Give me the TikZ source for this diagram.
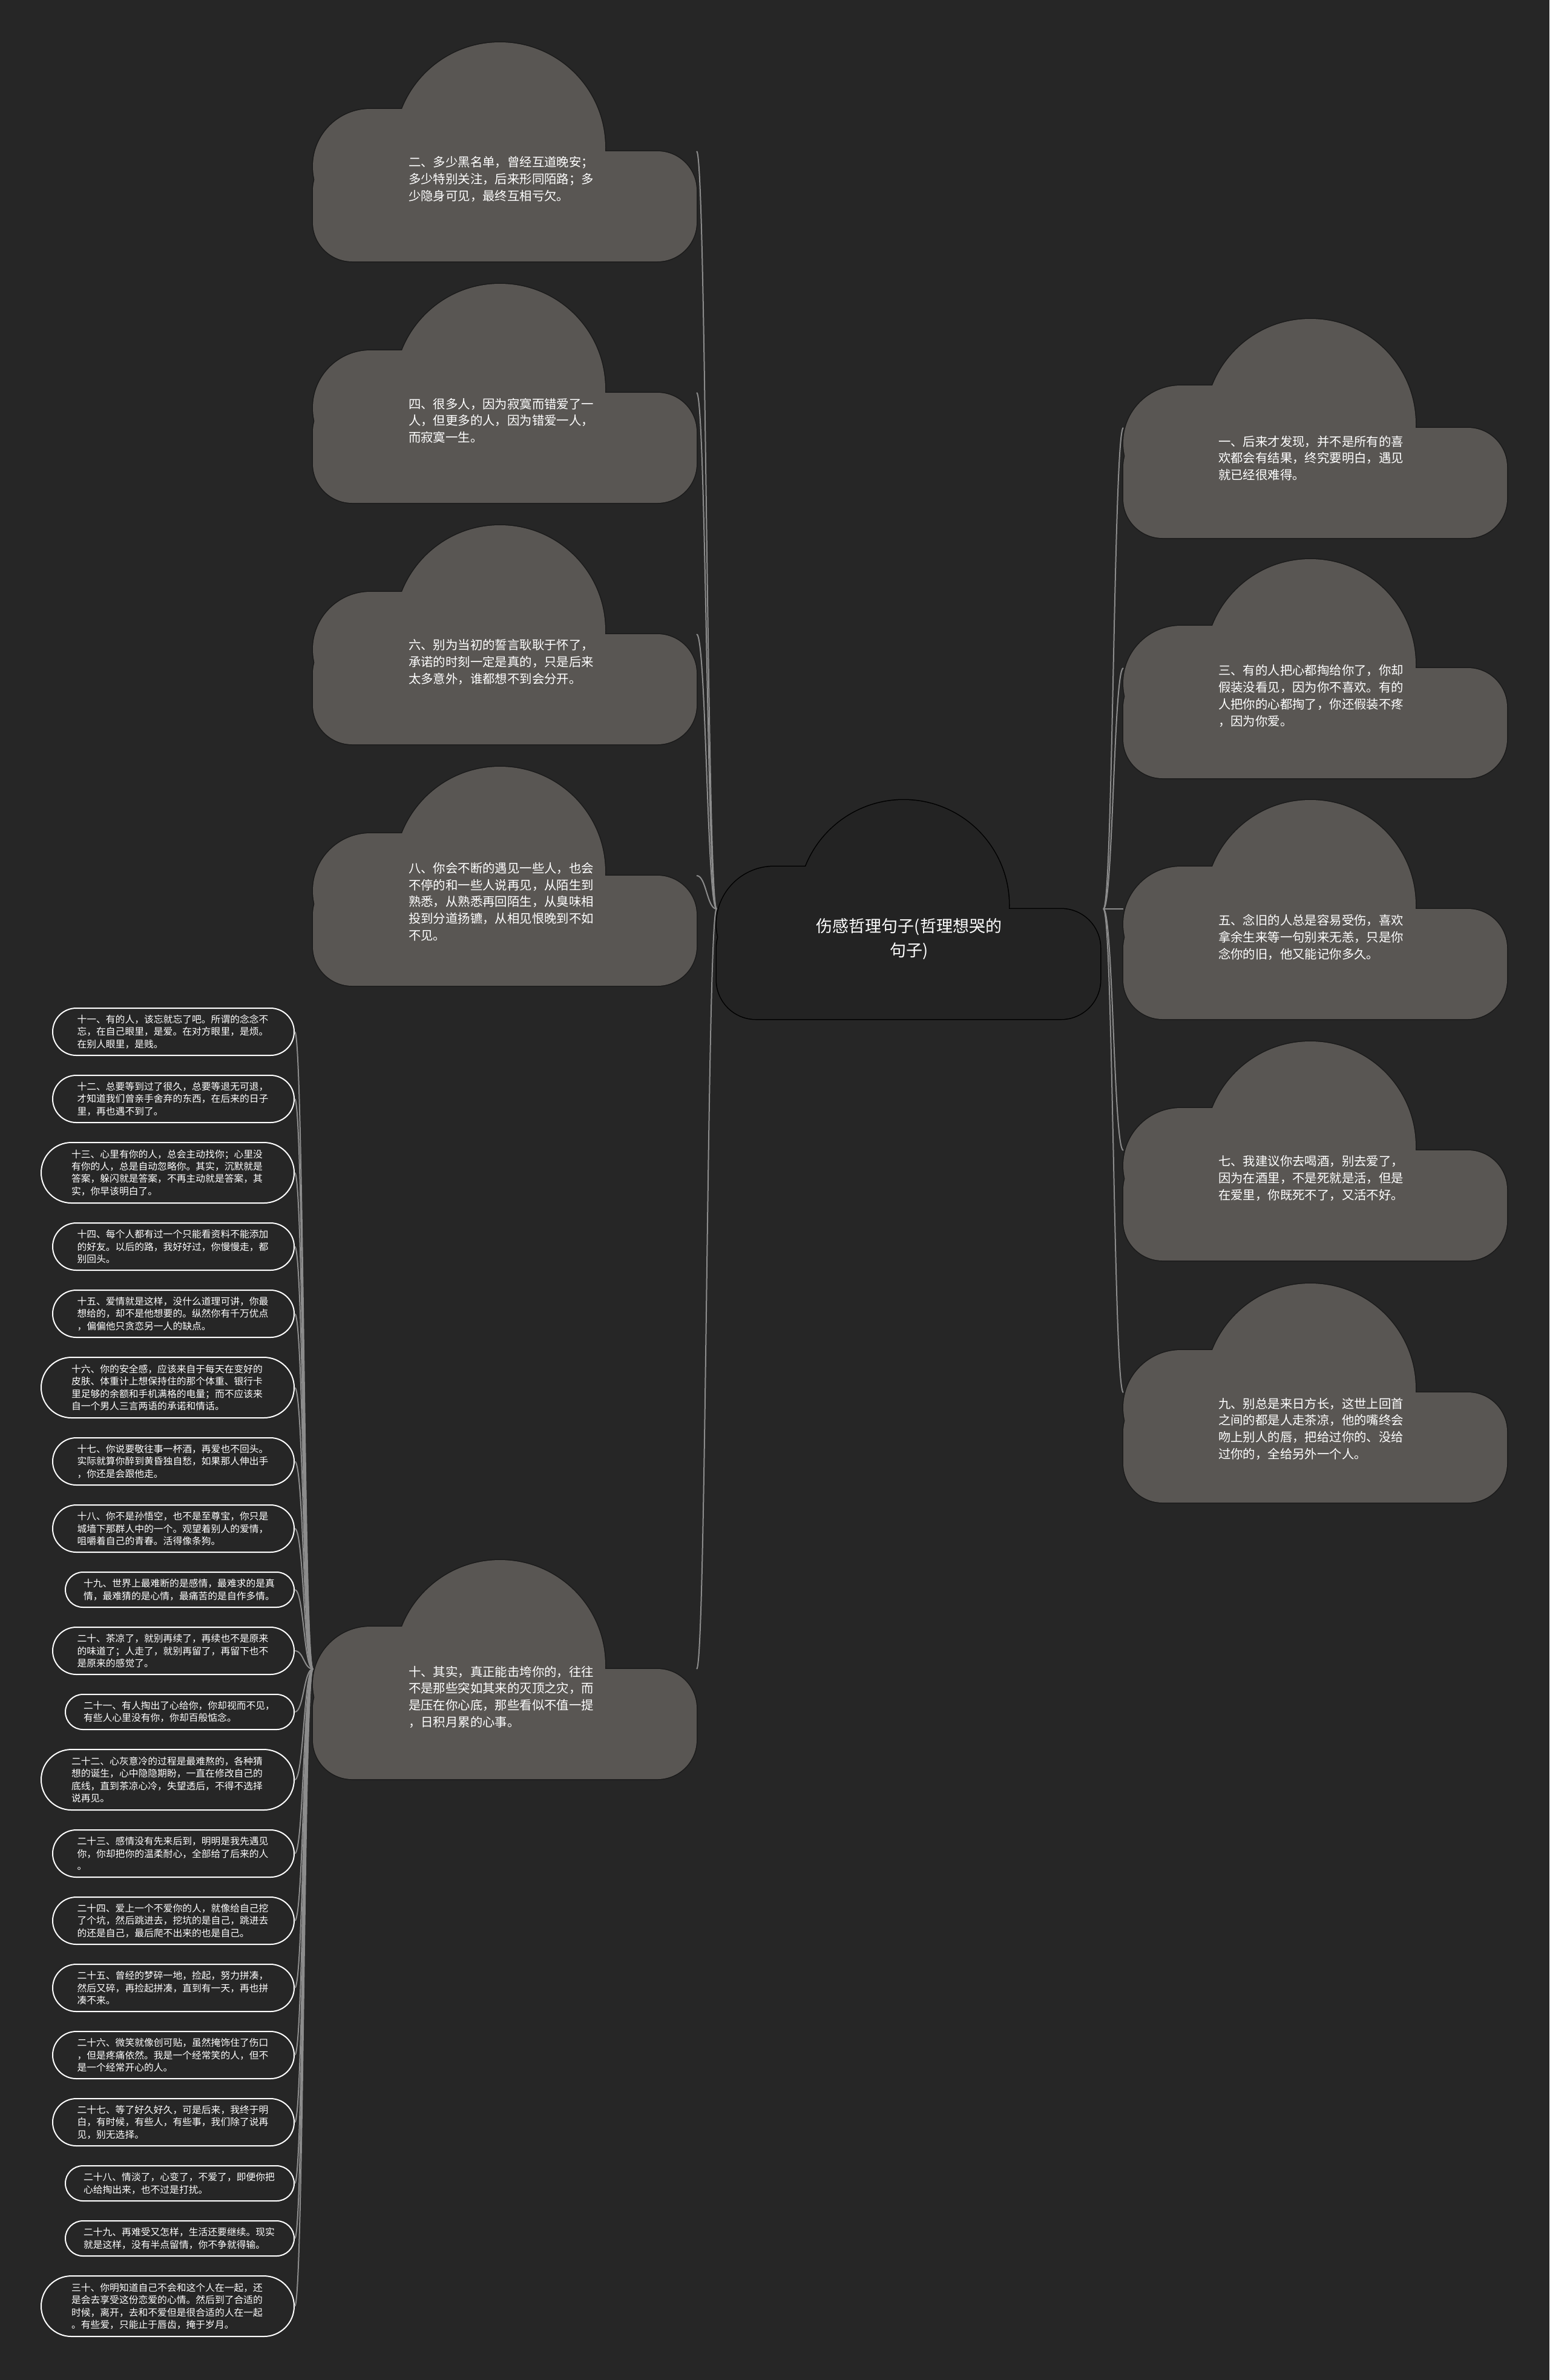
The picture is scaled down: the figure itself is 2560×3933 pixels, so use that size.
\documentclass[tikz,border=0pt]{standalone}
\usepackage{fontspec}
\newfontfamily\cjk{Noto Sans CJK SC}
\definecolor{bg}{HTML}{262626}
\definecolor{cloudfill}{HTML}{595653}
\definecolor{centerfill}{HTML}{232323}
\definecolor{cloudedge}{HTML}{1A1A1A}
\definecolor{linec}{HTML}{8C8C8C}
\newcommand\mycloud[4]{%
  \begin{scope}[shift={(#1,#2)}]
    \path[draw=#4, line width=3pt] (309,174) circle[radius=174];
    \path[draw=#4, line width=3pt, rounded corners=95pt] (0,110) rectangle (309,300);
    \path[draw=#4, line width=3pt, rounded corners=65pt] (0,180) rectangle (634,362);
    \path[fill=#3] (309,174) circle[radius=174];
    \path[fill=#3, rounded corners=95pt] (0,110) rectangle (309,300);
    \path[fill=#3, rounded corners=65pt] (0,180) rectangle (634,362);
  \end{scope}}
\tikzset{
  cloudtext/.style={text=white, font=\cjk\fontsize{20.4}{27.7}\selectfont, text width=308pt, align=left, inner sep=0pt},
  centertext/.style={text=white, font=\cjk\fontsize{27}{40}\selectfont, align=center, inner sep=0pt},
  leaf/.style={rectangle, draw=white, line width=2pt, fill=bg, text=white,
    font=\cjk\fontsize{15.8}{20.3}\selectfont, text width=318pt, align=left,
    inner xsep=0pt, inner ysep=0pt, anchor=east},
  leafa/.style={leaf, minimum height=58pt, minimum width=378pt, rounded corners=29pt},
  leafb/.style={leaf, minimum height=78pt, minimum width=399pt, rounded corners=39pt},
  leafc/.style={leaf, minimum height=100pt, minimum width=418pt, rounded corners=50pt},
  conn/.style={draw=linec, line width=2pt},
}
\begin{document}
\begin{tikzpicture}[x=1pt,y=-1pt]
\useasboundingbox (0,0) rectangle (2560,3933);
\fill[bg] (0,0) rectangle (2560,3933);

% anchor coordinates
\coordinate (cL) at (1184,1502);
\coordinate (cR) at (1823,1502);
\coordinate (k2) at (1151,250);
\coordinate (k4) at (1151,649);
\coordinate (k6) at (1151,1048);
\coordinate (k8) at (1151,1447);
\coordinate (k10) at (1151,2758);
\coordinate (k10L) at (517,2758);
\coordinate (k1) at (1856,707);
\coordinate (k3) at (1856,1104);
\coordinate (k5) at (1856,1502);
\coordinate (k7) at (1856,1901);
\coordinate (k9) at (1856,2301);

% small nodes
\node[leafb] (n11) at (487,1705) {十一、有的人，该忘就忘了吧。所谓的念念不\\忘，在自己眼里，是爱。在对方眼里，是烦。\\在别人眼里，是贱。};
\node[leafb] (n12) at (487,1816) {十二、总要等到过了很久，总要等退无可退，\\才知道我们曾亲手舍弃的东西，在后来的日子\\里，再也遇不到了。};
\node[leafc] (n13) at (487,1938) {十三、心里有你的人，总会主动找你；心里没\\有你的人，总是自动忽略你。其实，沉默就是\\答案，躲闪就是答案，不再主动就是答案，其\\实，你早该明白了。};
\node[leafb] (n14) at (487,2060) {十四、每个人都有过一个只能看资料不能添加\\的好友。以后的路，我好好过，你慢慢走，都\\别回头。};
\node[leafb] (n15) at (487,2171) {十五、爱情就是这样，没什么道理可讲，你最\\想给的，却不是他想要的。纵然你有千万优点\\，偏偏他只贪恋另一人的缺点。};
\node[leafc] (n16) at (487,2293) {十六、你的安全感，应该来自于每天在变好的\\皮肤、体重计上想保持住的那个体重、银行卡\\里足够的余额和手机满格的电量；而不应该来\\自一个男人三言两语的承诺和情话。};
\node[leafb] (n17) at (487,2415) {十七、你说要敬往事一杯酒，再爱也不回头。\\实际就算你醉到黄昏独自愁，如果那人伸出手\\，你还是会跟他走。};
\node[leafb] (n18) at (487,2526) {十八、你不是孙悟空，也不是至尊宝，你只是\\城墙下那群人中的一个。观望着别人的爱情，\\咀嚼着自己的青春。活得像条狗。};
\node[leafa] (n19) at (487,2627) {十九、世界上最难断的是感情，最难求的是真\\情，最难猜的是心情，最痛苦的是自作多情。};
\node[leafb] (n20) at (487,2728) {二十、茶凉了，就别再续了，再续也不是原来\\的味道了；人走了，就别再留了，再留下也不\\是原来的感觉了。};
\node[leafa] (n21) at (487,2829) {二十一、有人掏出了心给你，你却视而不见，\\有些人心里没有你，你却百般惦念。};
\node[leafc] (n22) at (487,2941) {二十二、心灰意冷的过程是最难熬的，各种猜\\想的诞生，心中隐隐期盼，一直在修改自己的\\底线，直到茶凉心冷，失望透后，不得不选择\\说再见。};
\node[leafb] (n23) at (487,3063) {二十三、感情没有先来后到，明明是我先遇见\\你，你却把你的温柔耐心，全部给了后来的人\\。};
\node[leafb] (n24) at (487,3174) {二十四、爱上一个不爱你的人，就像给自己挖\\了个坑，然后跳进去，挖坑的是自己，跳进去\\的还是自己，最后爬不出来的也是自己。};
\node[leafb] (n25) at (487,3285) {二十五、曾经的梦碎一地，捡起，努力拼凑，\\然后又碎，再捡起拼凑，直到有一天，再也拼\\凑不来。};
\node[leafb] (n26) at (487,3396) {二十六、微笑就像创可贴，虽然掩饰住了伤口\\，但是疼痛依然。我是一个经常笑的人，但不\\是一个经常开心的人。};
\node[leafb] (n27) at (487,3507) {二十七、等了好久好久，可是后来，我终于明\\白，有时候，有些人，有些事，我们除了说再\\见，别无选择。};
\node[leafa] (n28) at (487,3608) {二十八、情淡了，心变了，不爱了，即便你把\\心给掏出来，也不过是打扰。};
\node[leafa] (n29) at (487,3699) {二十九、再难受又怎样，生活还要继续。现实\\就是这样，没有半点留情，你不争就得输。};
\node[leafc] (n30) at (487,3811) {三十、你明知道自己不会和这个人在一起，还\\是会去享受这份恋爱的心情。然后到了合适的\\时候，离开，去和不爱但是很合适的人在一起\\。有些爱，只能止于唇齿，掩于岁月。};

% connectors
\foreach \t in {k2,k4,k6,k8,k10}
  \draw[conn] (cL) .. controls +(-16,0) and +(16,0) .. (\t);
\foreach \t in {k1,k3,k5,k7,k9}
  \draw[conn] (cR) .. controls +(16,0) and +(-16,0) .. (\t);
\foreach \t in {n11,n12,n13,n14,n15,n16,n17,n18,n19,n20,n21,n22,n23,n24,n25,n26,n27,n28,n29,n30}
  \draw[conn] (k10L) .. controls +(-15,0) and +(15,0) .. (\t.east);

% clouds
\mycloud{1184}{1322}{centerfill}{black}
\mycloud{517}{70}{cloudfill}{cloudedge}
\mycloud{517}{469}{cloudfill}{cloudedge}
\mycloud{517}{868}{cloudfill}{cloudedge}
\mycloud{517}{1267}{cloudfill}{cloudedge}
\mycloud{517}{2578}{cloudfill}{cloudedge}
\mycloud{1856}{527}{cloudfill}{cloudedge}
\mycloud{1856}{924}{cloudfill}{cloudedge}
\mycloud{1856}{1322}{cloudfill}{cloudedge}
\mycloud{1856}{1721}{cloudfill}{cloudedge}
\mycloud{1856}{2121}{cloudfill}{cloudedge}

\node[centertext] (c0) at (1502,1552) {伤感哲理句子(哲理想哭的\\句子)};
\node[cloudtext] (c2) at (829,296) {二、多少黑名单，曾经互道晚安；\\多少特别关注，后来形同陌路；多\\少隐身可见，最终互相亏欠。};
\node[cloudtext] (c4) at (829,695) {四、很多人，因为寂寞而错爱了一\\人，但更多的人，因为错爱一人，\\而寂寞一生。};
\node[cloudtext] (c6) at (829,1094) {六、别为当初的誓言耿耿于怀了，\\承诺的时刻一定是真的，只是后来\\太多意外，谁都想不到会分开。};
\node[cloudtext] (c8) at (829,1490) {八、你会不断的遇见一些人，也会\\不停的和一些人说再见，从陌生到\\熟悉，从熟悉再回陌生，从臭味相\\投到分道扬镳，从相见恨晚到不如\\不见。};
\node[cloudtext] (c10) at (829,2804) {十、其实，真正能击垮你的，往往\\不是那些突如其来的灭顶之灾，而\\是压在你心底，那些看似不值一提\\，日积月累的心事。};
\node[cloudtext] (c1) at (2167,757) {一、后来才发现，并不是所有的喜\\欢都会有结果，终究要明白，遇见\\就已经很难得。};
\node[cloudtext] (c3) at (2167,1150) {三、有的人把心都掏给你了，你却\\假装没看见，因为你不喜欢。有的\\人把你的心都掏了，你还假装不疼\\，因为你爱。};
\node[cloudtext] (c5) at (2167,1549) {五、念旧的人总是容易受伤，喜欢\\拿余生来等一句别来无恙，只是你\\念你的旧，他又能记你多久。};
\node[cloudtext] (c7) at (2167,1947) {七、我建议你去喝酒，别去爱了，\\因为在酒里，不是死就是活，但是\\在爱里，你既死不了，又活不好。};
\node[cloudtext] (c9) at (2167,2361) {九、别总是来日方长，这世上回首\\之间的都是人走茶凉，他的嘴终会\\吻上别人的唇，把给过你的、没给\\过你的，全给另外一个人。};
\end{tikzpicture}
\end{document}
